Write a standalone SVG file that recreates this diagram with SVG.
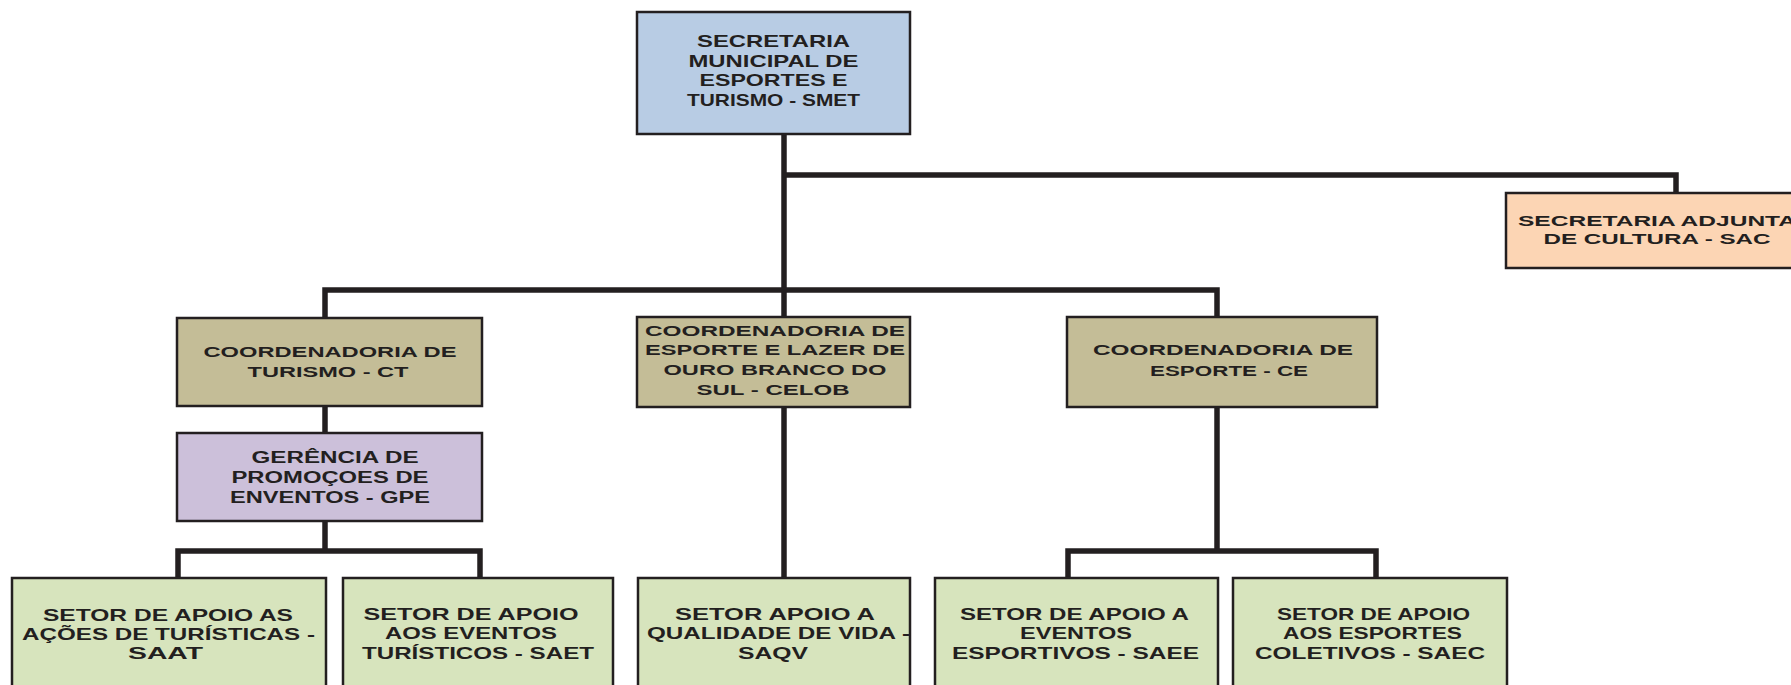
<svg xmlns="http://www.w3.org/2000/svg" width="1791" height="685" viewBox="0 0 1791 685">
<style>
.box{stroke:#231F20;stroke-width:2.5}
.blue{fill:#B8CCE4}.peach{fill:#FCD5B4}.olive{fill:#C4BD97}.lilac{fill:#CCC0DA}.green{fill:#D7E4BD}
text{font-family:"Liberation Sans",Arial,sans-serif;font-weight:bold;fill:#231F20;text-anchor:middle}
.c{fill:none;stroke:#231F20;stroke-width:5.5;stroke-linejoin:miter}
</style>
<rect width="1791" height="685" fill="#FFFFFF"/>
<g id="connectors">
<path class="c" d="M784,134 V317"/>
<path class="c" d="M784,175 H1676 V193"/>
<path class="c" d="M325,318 V290 H1217 V317"/>
<path class="c" d="M325,406 V433"/>
<path class="c" d="M325,521 V551"/>
<path class="c" d="M178,578 V551 H480 V578"/>
<path class="c" d="M784,407 V578"/>
<path class="c" d="M1217,407 V551"/>
<path class="c" d="M1068,578 V551 H1376 V578"/>
</g>
<g id="smet">
<rect class="box blue" x="637" y="12" width="273" height="122"/>
<g font-size="17">
<text x="773.5" y="47" textLength="153" lengthAdjust="spacingAndGlyphs">SECRETARIA</text>
<text x="773.5" y="67" textLength="170" lengthAdjust="spacingAndGlyphs">MUNICIPAL DE</text>
<text x="773.5" y="86" textLength="148" lengthAdjust="spacingAndGlyphs">ESPORTES E</text>
<text x="773.5" y="106" textLength="173" lengthAdjust="spacingAndGlyphs">TURISMO - SMET</text>
</g>
</g>
<g id="sac">
<rect class="box peach" x="1506" y="193" width="304" height="75"/>
<g font-size="15">
<text x="1657" y="226" textLength="278" lengthAdjust="spacingAndGlyphs">SECRETARIA ADJUNTA</text>
<text x="1657" y="244" textLength="227" lengthAdjust="spacingAndGlyphs">DE CULTURA - SAC</text>
</g>
</g>
<g id="ct">
<rect class="box olive" x="177" y="318" width="305" height="88"/>
<g font-size="15">
<text x="330" y="357" textLength="253" lengthAdjust="spacingAndGlyphs">COORDENADORIA DE</text>
<text x="328" y="377" textLength="161" lengthAdjust="spacingAndGlyphs">TURISMO - CT</text>
</g>
</g>
<g id="gpe">
<rect class="box lilac" x="177" y="433" width="305" height="88"/>
<g font-size="16">
<text x="335" y="463" textLength="167" lengthAdjust="spacingAndGlyphs">GERÊNCIA  DE</text>
<text x="330" y="483" textLength="197" lengthAdjust="spacingAndGlyphs">PROMOÇOES DE</text>
<text x="330" y="503" textLength="200" lengthAdjust="spacingAndGlyphs">ENVENTOS - GPE</text>
</g>
</g>
<g id="celob">
<rect class="box olive" x="637" y="317" width="273" height="90"/>
<g font-size="14.5">
<text x="775" y="336" textLength="260" lengthAdjust="spacingAndGlyphs">COORDENADORIA  DE</text>
<text x="775" y="355" textLength="260" lengthAdjust="spacingAndGlyphs">ESPORTE E LAZER DE</text>
<text x="775" y="375" textLength="223" lengthAdjust="spacingAndGlyphs">OURO BRANCO DO</text>
<text x="773" y="395" textLength="153" lengthAdjust="spacingAndGlyphs">SUL - CELOB</text>
</g>
</g>
<g id="ce">
<rect class="box olive" x="1067" y="317" width="310" height="90"/>
<g font-size="14.5">
<text x="1223" y="355" textLength="260" lengthAdjust="spacingAndGlyphs">COORDENADORIA  DE</text>
<text x="1229" y="376" textLength="158" lengthAdjust="spacingAndGlyphs">ESPORTE - CE</text>
</g>
</g>
<g id="saat">
<rect class="box green" x="12" y="578" width="314" height="130"/>
<g font-size="16.5">
<text x="168" y="621" textLength="250" lengthAdjust="spacingAndGlyphs">SETOR DE APOIO AS</text>
<text x="168.5" y="640" textLength="293" lengthAdjust="spacingAndGlyphs">AÇÕES DE TURÍSTICAS -</text>
<text x="165.5" y="659" textLength="75" lengthAdjust="spacingAndGlyphs">SAAT</text>
</g>
</g>
<g id="saet">
<rect class="box green" x="343" y="578" width="270" height="130"/>
<g font-size="16.5">
<text x="471" y="620" textLength="215" lengthAdjust="spacingAndGlyphs">SETOR DE APOIO</text>
<text x="471" y="639" textLength="172" lengthAdjust="spacingAndGlyphs">AOS EVENTOS</text>
<text x="478" y="659" textLength="232" lengthAdjust="spacingAndGlyphs">TURÍSTICOS - SAET</text>
</g>
</g>
<g id="saqv">
<rect class="box green" x="638" y="578" width="272" height="130"/>
<g font-size="16.5">
<text x="775" y="620" textLength="200" lengthAdjust="spacingAndGlyphs">SETOR  APOIO A</text>
<text x="778.5" y="639" textLength="263" lengthAdjust="spacingAndGlyphs">QUALIDADE DE VIDA -</text>
<text x="773" y="659" textLength="70" lengthAdjust="spacingAndGlyphs">SAQV</text>
</g>
</g>
<g id="saee">
<rect class="box green" x="935" y="578" width="283" height="130"/>
<g font-size="16.5">
<text x="1074.5" y="620" textLength="229" lengthAdjust="spacingAndGlyphs">SETOR DE APOIO A</text>
<text x="1076" y="639" textLength="112" lengthAdjust="spacingAndGlyphs">EVENTOS</text>
<text x="1075.5" y="659" textLength="247" lengthAdjust="spacingAndGlyphs">ESPORTIVOS - SAEE</text>
</g>
</g>
<g id="saec">
<rect class="box green" x="1233" y="578" width="274" height="130"/>
<g font-size="16.5">
<text x="1373.5" y="620" textLength="193" lengthAdjust="spacingAndGlyphs">SETOR DE APOIO</text>
<text x="1372.5" y="639" textLength="179" lengthAdjust="spacingAndGlyphs">AOS ESPORTES</text>
<text x="1370" y="659" textLength="230" lengthAdjust="spacingAndGlyphs">COLETIVOS - SAEC</text>
</g>
</g>
</svg>
